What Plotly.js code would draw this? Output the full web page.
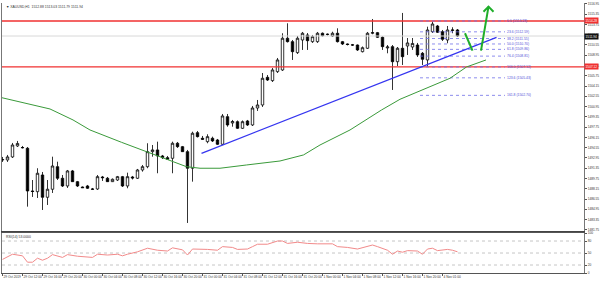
<!DOCTYPE html>
<html><head><meta charset="utf-8">
<script src="https://cdn.plot.ly/plotly-3.0.1.min.js"></script>
<style>html,body{margin:0;padding:0;background:#fff;}#c{width:600px;height:282px;}</style>
</head><body><div id="c"></div>
<script>
// ---- data (XAUUSD H1) ----
const open = [1492.64,1492.64,1493.11,1494.82,1494.58,1494.46,1487.81,1487.70,1490.30,1486.83,
1488.08,1491.59,1489.79,1488.59,1490.93,1489.26,1488.43,1488.59,1488.12,1488.12,
1489.99,1489.79,1489.26,1489.52,1490.04,1488.59,1489.99,1489.79,1491.08,1491.59,
1493.93,1494.20,1493.26,1493.00,1492.90,1495.24,1494.71,1493.93,1491.35,1496.89,
1496.02,1495.49,1496.02,1495.75,1495.08,1499.38,1498.40,1498.60,1497.57,1498.71,
1498.09,1500.73,1501.20,1505.51,1504.99,1506.39,1506.65,1511.59,1511.06,1509.35,
1511.32,1512.10,1511.06,1511.06,1512.37,1512.18,1511.94,1512.37,1511.06,1510.70,
1510.57,1510.54,1509.50,1510.03,1512.37,1512.46,1511.74,1510.08,1510.28,1507.94,
1510.03,1510.39,1510.23,1510.54,1509.25,1508.21,1512.61,1513.50,1512.61,1511.32,
1512.80,1512.88];
const high = [1493.11,1493.42,1495.29,1495.60,1494.82,1494.66,1489.52,1491.35,1490.77,1489.52,
1493.15,1492.37,1490.30,1491.08,1491.08,1489.37,1488.51,1488.75,1488.28,1490.30,
1490.15,1489.99,1489.76,1490.15,1490.15,1490.66,1490.15,1491.24,1491.86,1495.24,
1494.97,1495.49,1493.42,1493.26,1495.49,1495.44,1494.82,1494.20,1497.04,1497.15,
1496.38,1496.64,1496.27,1495.91,1499.80,1499.80,1498.87,1498.79,1498.79,1498.87,
1501.05,1501.98,1506.18,1505.87,1506.96,1508.52,1512.37,1513.92,1511.32,1511.94,
1512.57,1512.41,1512.10,1512.57,1512.49,1512.33,1512.61,1513.14,1511.17,1510.78,
1510.70,1510.62,1510.31,1512.57,1514.59,1512.57,1511.87,1510.54,1510.54,1510.23,
1515.53,1511.63,1511.63,1510.86,1509.45,1513.39,1514.17,1513.66,1512.88,1513.50,
1513.30,1513.03];
const low = [1492.33,1492.33,1492.95,1494.66,1494.43,1485.37,1486.88,1486.72,1484.85,1485.63,
1487.50,1489.52,1488.43,1488.28,1489.21,1488.43,1488.28,1488.12,1487.97,1487.97,
1489.37,1489.21,1489.21,1489.37,1488.43,1488.23,1489.60,1489.68,1490.82,1491.35,
1493.15,1490.57,1492.79,1492.64,1490.57,1494.51,1493.88,1482.83,1489.26,1496.14,
1495.75,1495.24,1495.44,1494.97,1494.97,1497.82,1497.82,1497.47,1497.47,1497.93,
1497.93,1500.27,1500.89,1504.94,1504.78,1506.18,1506.50,1510.93,1508.21,1509.14,
1509.77,1509.77,1510.86,1510.86,1511.87,1512.02,1511.79,1510.93,1510.54,1510.47,
1510.39,1509.61,1509.38,1509.92,1512.21,1511.63,1509.77,1509.25,1503.54,1507.27,
1507.43,1508.99,1509.77,1508.68,1507.43,1507.17,1512.41,1512.41,1511.17,1510.81,
1512.37,1511.79];
const close = [1492.70,1493.11,1494.97,1495.21,1494.55,1487.81,1487.73,1490.57,1486.83,1488.08,
1491.70,1489.79,1488.59,1490.93,1489.26,1488.59,1488.32,1488.23,1488.08,1490.04,
1489.88,1489.26,1489.63,1490.04,1488.59,1490.04,1489.84,1491.08,1491.59,1493.93,
1494.20,1493.26,1493.00,1492.75,1495.24,1494.71,1493.93,1491.35,1496.80,1496.27,
1495.86,1496.27,1495.60,1495.08,1499.49,1498.09,1498.63,1497.57,1498.60,1498.09,
1500.73,1501.20,1505.36,1505.09,1506.65,1508.21,1511.59,1511.06,1509.50,1511.59,
1512.37,1511.21,1511.84,1512.37,1511.99,1512.21,1512.37,1511.06,1510.70,1510.62,
1510.53,1509.77,1510.12,1512.37,1512.46,1511.74,1510.28,1510.23,1507.94,1510.03,
1508.72,1510.86,1510.78,1508.99,1508.32,1512.88,1513.81,1512.52,1511.43,1512.88,
1512.88,1511.94];

const maIdx = [-0.5,9.5,14.1,17.5,23.8,28.8,33.5,36.8,39.5,43.5,48.8,55.5,60.2,63.5,69.5,75.8,79.5,83.8,89.5,92.8,96.7];
const maVal = [1502.40,1500.58,1498.87,1497.31,1495.39,1493.93,1492.64,1491.59,1491.35,1491.35,1491.86,1492.48,1493.42,1494.97,1497.31,1500.42,1502.09,1503.54,1505.36,1507.12,1508.21];

const rsiIdx = [0,2,4,5,6,7,8,9,10,12,13,15,18,19,21,23,24,25,27,29,31,33,34,36,37,38,41,43,44,46,47,49,50,51,53,55,56,57,59,61,63,65,66,67,69,71,73,74,75,77,78,79,80,81,83,84,85,86,87,89,90,91];
const rsiVal = [34,47,43,27,27,37,32,37,46,39,46,42,39,47,45,47,43,47,53,62,57,55,63,58,45,60,59,57,66,64,59,60,66,72,72,80,80,74,77,74,73,74,73,66,64,60,67,70,66,57,47,55,52,56,55,47,60,62,56,59,57,53];

const trendIdx = [39.8, 98.8];
const trendVal = [1493.68, 1511.74];

const redLevels = [1514.28, 1507.12];
const fibNames = ["0.0","23.6","38.2","50.0","61.8","76.4","100.0","123.6","161.8"];
const fibPrices = [1514.28,1512.59,1511.55,1510.70,1509.86,1508.81,1507.12,1505.43,1502.70];
const fibSpan = [83.5, 100.5];

const arrowDownIdx = [92.5, 94.0], arrowDownVal = [1512.37, 1509.66];
const arrowUpIdx = [95.7, 97.2], arrowUpVal = [1509.66, 1516.51];
const arrowHeadIdx = [96.2, 97.2, 98.2], arrowHeadVal = [1515.73, 1516.51, 1515.73];

const priceTicks = [1516.95,1515.35,1513.75,1512.15,1510.55,1508.95,1507.35,1505.75,1504.15,1502.55,1500.95,1499.35,1497.75,1496.15,1494.55,1492.95,1491.35,1489.75,1488.15,1486.55,1484.95,1483.35,1481.75];
const rsiTicks = [0,20,50,80,100];
const rsiLevels = [20,50,80];
const dateTickIdx = [0,4,8,12,16,20,24,28,32,36,40,44,48,52,56,60,64,68,72,76,80,84,88];
const dateLabels = ["29 Oct 2019","29 Oct 12:00","29 Oct 16:00","29 Oct 20:00","30 Oct 00:00","30 Oct 04:00","30 Oct 08:00","30 Oct 12:00","30 Oct 16:00","30 Oct 20:00","31 Oct 00:00","31 Oct 04:00","31 Oct 08:00","31 Oct 12:00","31 Oct 16:00","31 Oct 20:00","1 Nov 00:00","1 Nov 04:00","1 Nov 08:00","1 Nov 12:00","1 Nov 16:00","1 Nov 20:00","4 Nov 01:00"];

// ---- build ----
const n = close.length;
const idx = Array.from({length:n}, (_, i) => i);
const last = n - 1;
const FONT = "Liberation Sans, Arial, sans-serif";
const XR = [-0.1, 116.3];

const traces = [];
traces.push({type:'scatter', mode:'lines', x:[XR[0], XR[1]], y:[close[last], close[last]], xaxis:'x2', yaxis:'y',
  line:{color:'#d8d8d8', width:1}, hoverinfo:'skip', showlegend:false});
redLevels.forEach(v => traces.push({type:'scatter', mode:'lines', x:[XR[0], XR[1]], y:[v, v], xaxis:'x2', yaxis:'y',
  line:{color:'#f03030', width:1.3}, hoverinfo:'skip', showlegend:false}));
fibPrices.forEach(v => traces.push({type:'scatter', mode:'lines', x:fibSpan, y:[v, v], xaxis:'x2', yaxis:'y',
  line:{color:'#7070e8', width:0.8, dash:'dot'}, hoverinfo:'skip', showlegend:false}));
traces.push({type:'scatter', mode:'lines', x:maIdx, y:maVal, xaxis:'x2', yaxis:'y',
  line:{color:'#3a9a3a', width:1}, hoverinfo:'skip', showlegend:false});
traces.push({type:'scatter', mode:'lines', x:trendIdx, y:trendVal, xaxis:'x2', yaxis:'y',
  line:{color:'#3535f0', width:1.3}, hoverinfo:'skip', showlegend:false});
traces.push({type:'candlestick', x:idx, open:open, high:high, low:low, close:close, xaxis:'x2', yaxis:'y',
  increasing:{line:{color:'#000', width:0.8}, fillcolor:'#ffffff'},
  decreasing:{line:{color:'#000', width:0.8}, fillcolor:'#000000'},
  whiskerwidth:0, hoverinfo:'skip', showlegend:false});
[[arrowDownIdx, arrowDownVal],[arrowUpIdx, arrowUpVal],[arrowHeadIdx, arrowHeadVal]].forEach(a =>
  traces.push({type:'scatter', mode:'lines', x:a[0], y:a[1], xaxis:'x2', yaxis:'y',
    line:{color:'#1fae2a', width:2}, hoverinfo:'skip', showlegend:false}));
rsiLevels.forEach(v => traces.push({type:'scatter', mode:'lines', x:[XR[0], XR[1]], y:[v, v], xaxis:'x', yaxis:'y2',
  line:{color:'#b8b8b8', width:0.8, dash:'dot'}, hoverinfo:'skip', showlegend:false}));
traces.push({type:'scatter', mode:'lines', x:rsiIdx, y:rsiVal, xaxis:'x', yaxis:'y2',
  line:{color:'#f28a8a', width:1}, hoverinfo:'skip', showlegend:false});

const annotations = [];
fibPrices.forEach((v, i) => annotations.push({xref:'x2', yref:'y', x:fibSpan[1], y:v, xanchor:'left', yanchor:'middle',
  text:fibNames[i] + ' (' + v.toFixed(2) + ')', showarrow:false, font:{family:FONT, size:3.4, color:'#5050d8'}}));
redLevels.forEach(v => annotations.push({xref:'paper', yref:'y', x:1, y:v, xanchor:'left', yanchor:'middle',
  text:v.toFixed(2), showarrow:false, bgcolor:'#f03030', borderpad:0.6, font:{family:FONT, size:3.2, color:'#fff'}}));
annotations.push({xref:'paper', yref:'y', x:1, y:close[last], xanchor:'left', yanchor:'middle',
  text:close[last].toFixed(2), showarrow:false, bgcolor:'#111', borderpad:0.6, font:{family:FONT, size:3.2, color:'#fff'}});
annotations.push({xref:'paper', yref:'paper', x:0.004, y:1, xanchor:'left', yanchor:'top',
  text:'▼ XAUUSD,H1  ' + [open[last], high[last], low[last], close[last]].map(v => v.toFixed(2)).join(' '),
  showarrow:false, font:{family:FONT, size:3.4, color:'#333'}});
annotations.push({xref:'paper', yref:'paper', x:0.004, y:0.148, xanchor:'left', yanchor:'top',
  text:'RSI(14) ' + rsiVal[rsiVal.length-1].toFixed(4), showarrow:false, font:{family:FONT, size:3.4, color:'#333'}});

const layout = {
  width:600, height:282, margin:{l:2, r:16, t:3, b:9}, paper_bgcolor:'#fff', plot_bgcolor:'#fff',
  showlegend:false, font:{family:FONT, size:3.2, color:'#333'},
  xaxis:{domain:[0,1], anchor:'y2', range:XR, showgrid:false, zeroline:false, showline:true, mirror:true,
    linecolor:'#555', linewidth:1, tickvals:dateTickIdx, ticktext:dateLabels, ticks:'outside', ticklen:2, tickcolor:'#555',
    tickangle:0, automargin:false, ticklabelposition:'outside right', ticklabelstandoff:0,
    tickfont:{family:FONT, size:3.2, color:'#333'}, rangeslider:{visible:false}},
  xaxis2:{domain:[0,1], anchor:'y', matches:'x', range:XR, showgrid:false, zeroline:false, showline:true, mirror:false,
    linecolor:'#444', linewidth:1.2, showticklabels:false, ticks:'', rangeslider:{visible:false}},
  yaxis:{domain:[0.1556,1], range:[1481.58,1517.08], side:'right', showgrid:false, zeroline:false, showline:true, mirror:true,
    linecolor:'#777', linewidth:1, tickvals:priceTicks, ticktext:priceTicks.map(v => v.toFixed(2)), ticks:'outside', ticklen:2,
    tickcolor:'#555', automargin:false, tickfont:{family:FONT, size:3.2, color:'#333'}},
  yaxis2:{domain:[0,0.148], range:[0,100], side:'right', showgrid:false, zeroline:false, showline:true, mirror:true,
    linecolor:'#777', linewidth:1, tickvals:rsiTicks, ticktext:rsiTicks.map(String), ticks:'outside', ticklen:2,
    tickcolor:'#555', automargin:false, tickfont:{family:FONT, size:3.2, color:'#333'}},
  annotations:annotations
};
Plotly.newPlot('c', traces, layout, {staticPlot:true, displayModeBar:false});
</script></body></html>
